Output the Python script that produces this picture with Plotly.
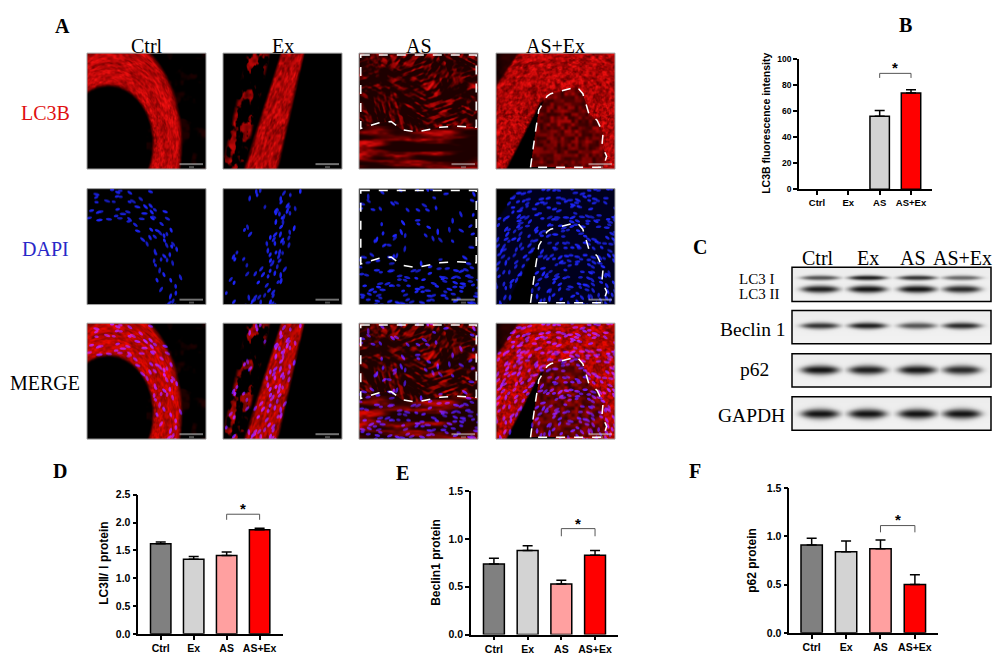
import numpy as np
import zlib, struct, base64
import plotly.graph_objects as go

W, H = 1006, 668

# ---------------- data ----------------
groups = ["Ctrl", "Ex", "AS", "AS+Ex"]

b_values = [None, None, 56, 74]
b_errors = [0, 0, 4.5, 2.5]
b_colors = ["#d3d3d3", "#d3d3d3", "#d3d3d3", "#ff0000"]
b_bracket = [85.5, 89.0, 96.0]       # leg bottom, bracket top, star

d_values = [1.62, 1.34, 1.41, 1.87]
d_errors = [0.03, 0.05, 0.06, 0.03]
d_bracket = [2.05, 2.15, 2.30]

e_values = [0.74, 0.88, 0.53, 0.83]
e_errors = [0.06, 0.05, 0.04, 0.05]
e_bracket = [1.03, 1.11, 1.20]

f_values = [0.91, 0.84, 0.87, 0.50]
f_errors = [0.07, 0.11, 0.09, 0.10]
f_bracket = [1.04, 1.11, 1.20]

bar_colors = ["#808080", "#d3d3d3", "#ffa0a0", "#ff0000"]

stains = ["LC3B", "DAPI", "MERGE"]
stain_colors = ["#e01010", "#2828c8", "#000000"]

blot_rows = ["LC3", "Beclin 1", "p62", "GAPDH"]
lc3_1_density = [0.70, 0.95, 0.85, 0.60]
lc3_2_density = [0.95, 1.00, 1.00, 0.90]
beclin_density = [0.85, 0.95, 0.70, 0.90]
p62_density = [1.00, 0.95, 0.98, 0.90]
gapdh_density = [1.00, 1.00, 1.00, 1.00]

# ---------------- helpers ----------------
def px(x):
    return x / W

def py(y):
    return 1 - y / H

def smoothstep(e0, e1, x):
    t = np.clip((x - e0) / (e1 - e0), 0, 1)
    return t * t * (3 - 2 * t)

def hash2(a, b, s=0.0):
    h = np.sin(a * 127.1 + b * 311.7 + s * 74.7) * 43758.5453
    return h - np.floor(h)

def vn(x, y, seed=0.0):
    xi = np.floor(x); yi = np.floor(y)
    xf = x - xi; yf = y - yi
    sx = xf * xf * (3 - 2 * xf); sy = yf * yf * (3 - 2 * yf)
    n00 = hash2(xi, yi, seed); n10 = hash2(xi + 1, yi, seed)
    n01 = hash2(xi, yi + 1, seed); n11 = hash2(xi + 1, yi + 1, seed)
    return (n00 * (1 - sx) + n10 * sx) * (1 - sy) + (n01 * (1 - sx) + n11 * sx) * sy

def fbm(x, y, seed=0.0, octaves=3):
    tot = 0; amp = 1.0; norm = 0
    for o in range(octaves):
        f = 2 ** o
        tot = tot + amp * vn(x * f, y * f, seed + o * 13.1)
        norm += amp; amp *= 0.5
    return tot / norm

def in_poly(U, V, pts):
    inside = np.zeros(U.shape, bool)
    n = len(pts)
    for k in range(n):
        x1, y1 = pts[k]; x2, y2 = pts[(k + 1) % n]
        cond = (y1 > V) != (y2 > V)
        xint = (x2 - x1) * (V - y1) / (y2 - y1 + 1e-12) + x1
        inside ^= cond & (U < xint)
    return inside

def nuclei(U, V, mask, spacing, density, seed, ax=0.026, ay=0.013, angle=None):
    nr, nc = U.shape
    out = np.zeros_like(U)
    ncell = int(np.ceil(1 / spacing)) + 1
    for i in range(ncell):
        for j in range(ncell):
            h1 = hash2(i, j, seed); h2 = hash2(i, j, seed + 1.7)
            h3 = hash2(i, j, seed + 3.3); h4 = hash2(i, j, seed + 5.1)
            if h3 > density:
                continue
            cu = (i + h1) * spacing; cv = (j + h2) * spacing
            ri = min(nr - 1, max(0, int(cv * nr))); ci = min(nc - 1, max(0, int(cu * nc)))
            if mask[ri, ci] < 0.5:
                continue
            ang = h4 * np.pi if angle is None else angle[ri, ci] + (h4 - 0.5) * 0.9
            ca, sa = np.cos(ang), np.sin(ang)
            du = U - cu; dv = V - cv
            a = (du * ca + dv * sa) / (ax * (0.75 + 0.5 * h2))
            b = (-du * sa + dv * ca) / ay
            d = a * a + b * b
            out = np.maximum(out, (1 - smoothstep(0.5, 1.0, d)) * (0.7 + 0.3 * h1))
    return out

def png_uri(rgb):
    arr = (np.clip(rgb, 0, 1) * 255).astype(np.uint8)
    h, w, _ = arr.shape
    raw = b"".join(b"\x00" + arr[r].tobytes() for r in range(h))
    def chunk(t, d):
        c = struct.pack(">I", len(d)) + t + d
        return c + struct.pack(">I", zlib.crc32(t + d) & 0xffffffff)
    png = (b"\x89PNG\r\n\x1a\n" + chunk(b"IHDR", struct.pack(">IIBBBBB", w, h, 8, 2, 0, 0, 0))
           + chunk(b"IDAT", zlib.compress(raw, 9)) + chunk(b"IEND", b""))
    return "data:image/png;base64," + base64.b64encode(png).decode()

# ---------------- microscopy tiles (decorative) ----------------
TW, TH = 119, 118
col_x0 = [87, 223, 359, 496]
row_y0 = [48, 186, 323]
SC = 2
nu, nv = TW * SC, TH * SC
U, V = np.meshgrid((np.arange(nu) + 0.5) / nu, (np.arange(nv) + 0.5) / nv)

as_line = [(0.0, 0.65), (0.17, 0.60), (0.27, 0.59), (0.36, 0.66), (0.48, 0.68),
           (0.68, 0.64), (0.82, 0.63), (1.0, 0.64)]
asex_poly = [(0.29, 0.985), (0.33, 0.69), (0.36, 0.49), (0.43, 0.37), (0.46, 0.35),
             (0.57, 0.32), (0.68, 0.29), (0.73, 0.35), (0.78, 0.52), (0.85, 0.58),
             (0.90, 0.69), (0.89, 0.80), (0.93, 0.89), (0.90, 0.985)]

def streaks(S, T, seed, ls=14, lt=55):
    return vn(S * ls, T * lt, seed)

def tile_ctrl():
    e_in = ((U - 0.18) / 0.39) ** 2 + ((V - 0.78) / 0.52) ** 2
    e_out = ((U - 0.18) / 0.62) ** 2 + ((V - 0.78) / 0.95) ** 2
    mask = smoothstep(0.85, 1.02, e_in) * (1 - smoothstep(0.9, 1.04, e_out))
    phi = np.arctan2(V - 0.78, U - 0.18)
    rad = np.sqrt(e_in)
    cells = vn(phi * 16, rad * 30, 2)
    cells2 = vn(phi * 30, rad * 55, 21)
    lam = 0.5 + 0.5 * np.sin(rad * 22 + 4 * vn(phi * 3, rad * 4, 1))
    red = mask * (0.38 + 0.12 * lam + 0.3 * cells + 0.25 * cells2)
    red = red + (1 - mask) * 0.12 * smoothstep(0.55, 0.8, fbm(U * 10, V * 10, 3)) * (U > 0.5)
    ang = phi + np.pi / 2
    nuc = nuclei(U, V, mask, 0.055, 0.7, 1.0, angle=ang)
    return red, nuc, mask

def tile_ex():
    uc = 0.585 - 0.265 * V; hw = 0.105 + 0.045 * V
    d = np.abs(U - uc) / hw
    m1 = 1 - smoothstep(0.75, 1.05, d)
    uc2 = 0.30 - 0.22 * V; hw2 = 0.11
    d2 = np.abs(U - uc2) / hw2
    frag = smoothstep(0.45, 0.62, fbm(U * 22, V * 14, 5))
    m2 = (1 - smoothstep(0.6, 1.0, d2)) * frag
    cells = vn(V * 22, (U - uc) * 50, 3)
    cells2 = vn(V * 45, (U - uc) * 90, 31)
    red = m1 * (0.35 + 0.35 * cells + 0.3 * cells2) + m2 * 0.8 * (0.4 + 0.6 * vn(U * 30, V * 30, 4))
    mask = np.maximum(m1, m2)
    ang = np.full(U.shape, np.arctan2(1.0, -0.265))
    nuc = nuclei(U, V, mask, 0.05, 0.75, 2.0, angle=ang)
    return red, nuc, mask

def tile_as():
    xs = [p[0] for p in as_line]; ys = [p[1] for p in as_line]
    lv = np.interp(U, xs, ys)
    upper = V < lv
    acc = np.zeros_like(U)
    wsum = np.zeros_like(U)
    for k, a in enumerate([0.5, 1.3, 2.2, 2.8]):
        S = U * np.cos(a) + V * np.sin(a); T = -U * np.sin(a) + V * np.cos(a)
        w = vn(U * 4 + k * 3.1, V * 4, 40 + k) ** 3
        acc = acc + w * streaks(S, T, 50 + k)
        wsum = wsum + w
    st = acc / (wsum + 1e-9)
    up = 0.12 + 0.8 * smoothstep(0.42, 0.85, st) * (0.55 + 0.45 * vn(U * 7, V * 7, 9))
    band = smoothstep(0.35, 0.8, fbm(U * 3, V * 22, 10, 2))
    low = 0.12 + 0.8 * band * (0.45 + 0.55 * vn(U * 22, V * 55, 11))
    red = np.where(upper, up, low)
    mask = np.ones_like(U)
    angn = np.where(upper, 2 * np.pi * vn(U * 4, V * 4, 7), 0.0)
    nuc_up = nuclei(U, V, upper.astype(float), 0.075, 0.55, 3.0, angle=angn)
    nuc_lo = nuclei(U, V, (~upper).astype(float), 0.055, 0.8, 3.5, angle=angn)
    nuc = np.maximum(nuc_up, nuc_lo)
    return red, nuc, mask

def tile_asex():
    r = np.sqrt((U - 0.65) ** 2 + (V - 1.0) ** 2)
    corner = U / 0.18 + V / 0.27
    outer = smoothstep(0.95, 1.15, corner)
    plaque = in_poly(U, V, asex_poly)
    left_edge = 0.08 + (1 - V) * 0.5
    lumen = smoothstep(-0.01, 0.02, U - left_edge) * smoothstep(0.38, 0.44, V) * (U < 0.5)
    lumen = lumen * (~plaque)
    phi = np.arctan2(V - 1.0, U - 0.65)
    cells = vn(phi * 30, r * 50, 12)
    cells2 = vn(phi * 60, r * 90, 16)
    wall = 0.3 + 0.45 * cells + 0.3 * cells2
    plq = 0.2 + 0.6 * vn(U * 34, V * 34, 13) * (0.45 + 0.55 * fbm(U * 5, V * 5, 14))
    red = outer * (1 - lumen) * np.where(plaque, plq, wall)
    red = red + (1 - outer) * 0.22 * fbm(U * 12, V * 12, 15)
    mask = outer * (1 - lumen)
    ang = phi + np.pi / 2
    nuc = nuclei(U, V, mask, 0.05, 0.8, 4.0, angle=ang)
    return red, nuc, mask

def add_scalebar(img):
    r = int(0.955 * nv)
    c0, c1 = int(0.78 * nu), int(0.975 * nu)
    img[r:r + SC, c0:c1, :] = 0.9
    img[r + 3 * SC:r + 4 * SC, int(0.86 * nu):int(0.90 * nu), :] = 0.6
    return img

tiles = [tile_ctrl(), tile_ex(), tile_as(), tile_asex()]

images = []
for ci, (red, nuc, mask) in enumerate(tiles):
    red = np.clip(red, 0, 1)
    for ri in range(3):
        img = np.zeros((nv, nu, 3))
        if ri == 0:
            img[..., 0] = red
            img[..., 1] = 0.08 * red ** 3
            img[..., 2] = 0.08 * red ** 3
        elif ri == 1:
            img[..., 0] = 0.12 * nuc
            img[..., 1] = 0.15 * nuc
            img[..., 2] = np.maximum(nuc, 0.12 * mask * (ci == 3))
        else:
            img[..., 0] = red * (1 - 0.35 * nuc) + 0.25 * nuc
            img[..., 1] = 0.04 * red + 0.1 * nuc
            img[..., 2] = 0.95 * nuc
        img = add_scalebar(img)
        images.append(dict(source=png_uri(img), xref="paper", yref="paper",
                           x=px(col_x0[ci]), y=py(row_y0[ri]), sizex=TW / W, sizey=TH / H,
                           xanchor="left", yanchor="top", sizing="stretch", layer="above"))

# ---------------- western blots (decorative) ----------------
BX0, BX1 = 792, 991
blot_boxes = [(266, 301), (310, 344), (354, 388), (398, 432)]
lanes_u = [0.142, 0.38, 0.63, 0.854]
band_specs = [
    [(0.31, 0.075, lc3_1_density), (0.64, 0.11, lc3_2_density)],
    [(0.46, 0.10, beclin_density)],
    [(0.49, 0.14, p62_density)],
    [(0.51, 0.15, gapdh_density)],
]
for bi, (y0, y1) in enumerate(blot_boxes):
    bw, bh = (BX1 - BX0) * 2, (y1 - y0) * 2
    BU, BV = np.meshgrid((np.arange(bw) + 0.5) / bw, (np.arange(bh) + 0.5) / bh)
    dark = np.zeros_like(BU)
    for (vc, sv, dens) in band_specs[bi]:
        for li, uc in enumerate(lanes_u):
            su = 0.095
            lat = np.exp(-((BU - uc) / su) ** 4)
            sve = sv * (0.55 + 0.45 * np.exp(-((BU - uc) / su) ** 2))
            dark = np.maximum(dark, dens[li] * lat * np.exp(-((BV - vc) / sve) ** 2))
    bg = 0.93 + 0.02 * BV
    val = bg * (1 - 0.92 * dark)
    img = np.stack([val, val, val], axis=-1)
    images.append(dict(source=png_uri(img), xref="paper", yref="paper",
                       x=px(BX0), y=py(y0), sizex=(BX1 - BX0) / W, sizey=(y1 - y0) / H,
                       xanchor="left", yanchor="top", sizing="stretch", layer="above"))

# ---------------- figure ----------------
fig = go.Figure()

panels = [
    # axis suffix, values, errors, colors, bracket, x-domain px, y-domain px (bottom, top), yrange, dtick, fmt, xrange, xfont, yfont
    ("", b_values, b_errors, b_colors, b_bracket, (799, 932), (186.7, 54), (0, 100), 20, "d", (-0.575, 3.67), 9.5, 8.5),
    ("2", d_values, d_errors, bar_colors, d_bracket, (138.3, 282.7), (639.3, 497.7), (0, 2.5), 0.5, ".1f", (-0.68, 3.70), 10.5, 10.5),
    ("3", e_values, e_errors, bar_colors, e_bracket, (471, 618.3), (640, 494.3), (0, 1.5), 0.5, ".1f", (-0.68, 3.69), 10.5, 10.5),
    ("4", f_values, f_errors, bar_colors, f_bracket, (789.3, 938.3), (638.3, 490.7), (0, 1.5), 0.5, ".1f", (-0.65, 3.68), 10.5, 10.5),
]

layout_axes = {}
annotations = []
xs = list(range(len(groups)))
i_as, i_asex = groups.index("AS"), groups.index("AS+Ex")
for name, vals, errs, cols, br, xd, yd, yr, dt, fmt, xr, xf, yf in panels:
    xa = "x" + name; ya = "y" + name
    fig.add_trace(go.Bar(x=xs, y=vals, width=0.62, marker=dict(color=cols, line=dict(color="black", width=1.5)),
                         error_y=dict(type="data", array=errs, arrayminus=[0] * 4, symmetric=False,
                                      color="black", thickness=1.5, width=5),
                         xaxis=xa, yaxis=ya, showlegend=False, hoverinfo="skip"))
    fig.add_trace(go.Scatter(x=[i_as, i_as, i_asex, i_asex], y=[br[0], br[1], br[1], br[0]], mode="lines",
                             line=dict(color="#555555", width=1), xaxis=xa, yaxis=ya,
                             showlegend=False, hoverinfo="skip", cliponaxis=False))
    annotations.append(dict(x=(i_as + i_asex) / 2, y=br[2], xref=xa, yref=ya, text="<b>*</b>", showarrow=False,
                            font=dict(family="Liberation Sans", size=15, color="black"), yanchor="middle", yshift=-3))
    common = dict(showline=True, linecolor="black", linewidth=1.5, ticks="outside", ticklen=4, tickwidth=1.5,
                  tickcolor="black", showgrid=False, zeroline=False, fixedrange=True)
    layout_axes["xaxis" + name] = dict(domain=[px(xd[0]), px(xd[1])], range=list(xr), anchor=ya,
                                       tickvals=xs, ticktext=groups,
                                       tickfont=dict(family="Liberation Sans", size=xf, color="black", weight="bold"),
                                       **common)
    layout_axes["yaxis" + name] = dict(domain=[py(yd[0]), py(yd[1])], range=list(yr), anchor=xa,
                                       dtick=dt, tick0=0, tickformat=fmt,
                                       tickfont=dict(family="Liberation Sans", size=yf, color="black", weight="bold"),
                                       **common)

def txt(x, y, s, size, color="black", family="Liberation Serif", bold=False, angle=0, xanchor="center"):
    f = dict(family=family, size=size, color=color)
    if bold:
        f["weight"] = "bold"
    annotations.append(dict(x=px(x), y=py(y), xref="paper", yref="paper", text=s, showarrow=False,
                            font=f, xanchor=xanchor, yanchor="middle", textangle=angle))

# y axis titles
txt(766, 120, "LC3B fluorescence intensity", 10.5, family="Liberation Sans", bold=True, angle=-90)
txt(104, 568, "LC3Ⅱ/ Ⅰ protein", 12, family="Liberation Sans", bold=True, angle=-90)
txt(436, 567, "Beclin1 protein", 12, family="Liberation Sans", bold=True, angle=-90)
txt(752, 565, "p62 protein", 12, family="Liberation Sans", bold=True, angle=-90)

# panel letters
for letter, (lx, ly) in zip("ABCDEF", [(62, 20), (905, 19), (700, 245), (60, 474), (402, 476), (695, 474)]):
    txt(lx, ly, letter, 20, bold=True)

# panel A headings
for ci, g in enumerate(groups):
    txt(col_x0[ci] + TW / 2, 41, g, 20)
for ri, (s, c) in enumerate(zip(stains, stain_colors)):
    txt(45, row_y0[ri] + 61, s, 20, color=c)

# panel C labels
for g, cx in zip(groups, [818, 868, 913, 962]):
    txt(cx, 257, g, 20)
txt(737, 278.5, "LC3 I", 15, xanchor="left")
txt(737, 293.5, "LC3 II", 15, xanchor="left")
txt(752.5, 329, "Beclin 1", 19.5)
txt(754, 370, "p62", 19.5)
txt(751.7, 417, "GAPDH", 19.5)

# shapes: tile borders, dashed outlines, blot boxes
shapes = []
for ci in range(4):
    for ri in range(3):
        shapes.append(dict(type="rect", xref="paper", yref="paper", x0=px(col_x0[ci]), x1=px(col_x0[ci] + TW),
                           y0=py(row_y0[ri]), y1=py(row_y0[ri] + TH), line=dict(color="#a0a0a0", width=1), layer="above"))

def tile_path(ci, ri, pts, close=True):
    s = ""
    for k, (u, v) in enumerate(pts):
        s += ("M" if k == 0 else "L") + f"{px(col_x0[ci] + u * TW):.5f},{py(row_y0[ri] + v * TH):.5f} "
    if close:
        s += "Z"
    return s

as_outline = [(0.015, 0.015), (0.985, 0.015)] + [(min(max(u, 0.015), 0.985), v) for (u, v) in reversed(as_line)]
for ri in range(3):
    shapes.append(dict(type="path", xref="paper", yref="paper", path=tile_path(2, ri, as_outline),
                       line=dict(color="white", width=1.5, dash="dash"), layer="above"))
    shapes.append(dict(type="path", xref="paper", yref="paper", path=tile_path(3, ri, asex_poly),
                       line=dict(color="white", width=1.5, dash="dash"), layer="above"))

for (y0, y1) in blot_boxes:
    shapes.append(dict(type="rect", xref="paper", yref="paper", x0=px(BX0), x1=px(BX1), y0=py(y0), y1=py(y1),
                       line=dict(color="black", width=1.5), layer="above"))

fig.update_layout(width=W, height=H, margin=dict(l=0, r=0, t=0, b=0), paper_bgcolor="white",
                  plot_bgcolor="white", images=images, shapes=shapes, annotations=annotations,
                  bargap=0.3, **layout_axes)

fig.write_html("out.html", config={"displayModeBar": False},
               post_script="document.body.style.margin='0';document.body.style.overflow='hidden';")
